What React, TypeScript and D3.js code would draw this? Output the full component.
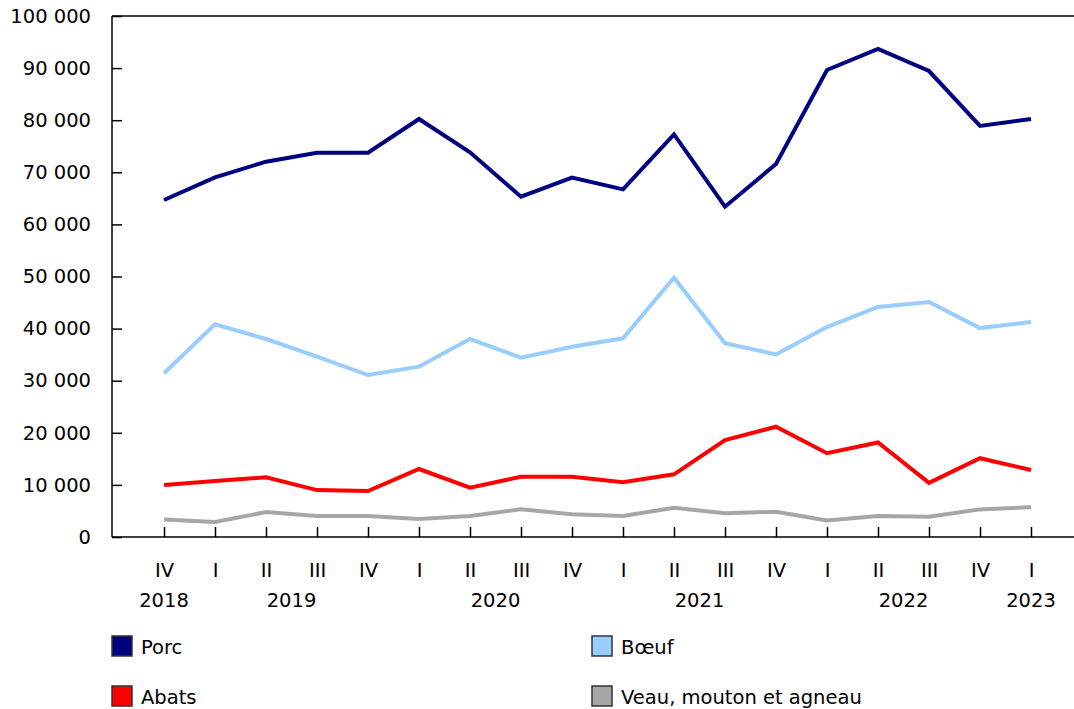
import * as d3 from "d3";
import { useEffect, useRef } from "react";

const quarters = ["IV", "I", "II", "III", "IV", "I", "II", "III", "IV", "I", "II", "III", "IV", "I", "II", "III", "IV", "I"];
const years = [
  { label: "2018", from: 0, to: 0 },
  { label: "2019", from: 1, to: 4 },
  { label: "2020", from: 5, to: 8 },
  { label: "2021", from: 9, to: 12 },
  { label: "2022", from: 13, to: 16 },
  { label: "2023", from: 17, to: 17 },
];

const porc = [64680, 69040, 72040, 73770, 73770, 80230, 73840, 65320, 68970, 66730, 77290, 63400, 71600, 89640, 93670, 89440, 78890, 80230];
const boeuf = [31420, 40820, 38000, 34610, 31090, 32690, 38000, 34420, 36530, 38140, 49770, 37180, 35050, 40300, 44150, 45100, 40100, 41270];
const abats = [9980, 10750, 11450, 9000, 8830, 13050, 9460, 11570, 11570, 10490, 12030, 18620, 21170, 16080, 18150, 10400, 15120, 12860];
const veau = [3350, 2880, 4800, 4030, 4030, 3450, 4030, 5310, 4350, 4030, 5630, 4540, 4860, 3150, 4030, 3880, 5300, 5720];

const yTicks = [0, 10000, 20000, 30000, 40000, 50000, 60000, 70000, 80000, 90000, 100000];

const series = [
  { name: "Porc", values: porc, color: "#000080" },
  { name: "Bœuf", values: boeuf, color: "#99ccff" },
  { name: "Abats", values: abats, color: "#ff0000" },
  { name: "Veau, mouton et agneau", values: veau, color: "#a6a6a6" },
];

const W = 1074;
const H = 709;
const font = "'DejaVu Sans', Verdana, sans-serif";

export default function App() {
  const ref = useRef<SVGSVGElement | null>(null);

  useEffect(() => {
    document.body.style.margin = "0";
    if (!ref.current) return;

    const margin = { top: 16, right: 0, bottom: 172, left: 112 };
    const innerW = W - margin.left - margin.right;
    const innerH = H - margin.top - margin.bottom;

    const x = d3
      .scalePoint<number>()
      .domain(quarters.map((_, i) => i))
      .range([52, 919]);

    const y = d3.scaleLinear().domain([0, 100000]).range([innerH, 0]);

    const svg = d3.select(ref.current);
    svg.selectAll("*").remove();

    const g = svg.append("g").attr("transform", `translate(${margin.left},${margin.top})`);

    // top border
    g.append("line").attr("x1", 0).attr("x2", innerW).attr("y1", 0).attr("y2", 0).attr("stroke", "#000").attr("stroke-width", 1.5);

    const yAxis = d3
      .axisLeft(y)
      .tickValues(yTicks)
      .tickSize(-10)
      .tickPadding(21)
      .tickFormat((v) => d3.format(",")(v as number).replace(/,/g, " "));
    const yg = g.append("g").call(yAxis);
    yg.select(".domain").remove();
    yg.selectAll(".tick line").attr("stroke", "#000").attr("stroke-width", 1.5);
    yg.selectAll("text").style("font-family", font).style("font-size", "19.5px").attr("fill", "#000");
    g.append("line").attr("x1", 0).attr("x2", 0).attr("y1", 0).attr("y2", innerH).attr("stroke", "#000").attr("stroke-width", 1.5);

    const xAxis = d3
      .axisBottom(x)
      .tickSize(-10)
      .tickPadding(16)
      .tickFormat((i) => quarters[i as number]);
    const xg = g.append("g").attr("transform", `translate(0,${innerH})`).call(xAxis);
    xg.select(".domain").remove();
    xg.selectAll(".tick line").attr("stroke", "#000").attr("stroke-width", 1.5);
    xg.selectAll("text").style("font-family", font).style("font-size", "19.5px").attr("fill", "#000").attr("dy", 0).attr("y", 40);
    g.append("line").attr("x1", 0).attr("x2", innerW).attr("y1", innerH).attr("y2", innerH).attr("stroke", "#000").attr("stroke-width", 1.5);

    g.selectAll(".year")
      .data(years)
      .join("text")
      .attr("class", "year")
      .attr("x", (d) => ((x(d.from) ?? 0) + (x(d.to) ?? 0)) / 2)
      .attr("y", innerH + 70)
      .attr("text-anchor", "middle")
      .style("font-family", font)
      .style("font-size", "19.5px")
      .text((d) => d.label);

    const line = d3
      .line<number>()
      .x((_, i) => x(i) ?? 0)
      .y((d) => y(d));

    g.selectAll(".series")
      .data(series)
      .join("path")
      .attr("class", "series")
      .attr("fill", "none")
      .attr("stroke", (d) => d.color)
      .attr("stroke-width", 4)
      .attr("stroke-linejoin", "miter")
      .attr("d", (d) => line(d.values));

    // legend
    const legend = svg
      .append("g")
      .selectAll("g")
      .data(series)
      .join("g")
      .attr("transform", (_, i) => `translate(${i % 2 === 0 ? 112 : 592},${i < 2 ? 636 : 686})`);
    legend
      .append("rect")
      .attr("width", 20)
      .attr("height", 20)
      .attr("fill", (d) => d.color)
      .attr("stroke", "#333")
      .attr("stroke-width", 1.5);
    legend
      .append("text")
      .attr("x", 29)
      .attr("y", 18)
      .style("font-family", font)
      .style("font-size", "19.5px")
      .text((d) => d.name);
  }, []);

  return <svg ref={ref} width={W} height={H} style={{ display: "block", background: "#fff" }} />;
}
